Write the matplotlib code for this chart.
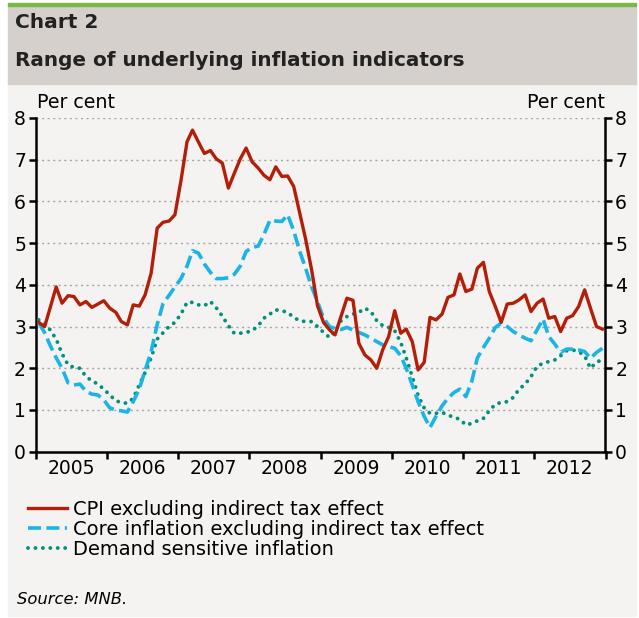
import matplotlib
matplotlib.use("Agg")
import matplotlib.pyplot as plt
import matplotlib.dates as mdates
from matplotlib.patches import Rectangle
import pandas as pd

# data (monthly, Jan 2005 - Dec 2012)
cpi_ex_tax = [
    3.1, 3.0, 3.45, 3.95, 3.56, 3.74, 3.72, 3.52, 3.6, 3.46, 3.54, 3.62,
    3.44, 3.34, 3.12, 3.04, 3.52, 3.49, 3.76, 4.28, 5.36, 5.5, 5.53, 5.68,
    6.5, 7.43, 7.71, 7.42, 7.15, 7.22, 7.02, 6.92, 6.32, 6.67, 7.02, 7.28,
    6.95, 6.8, 6.63, 6.52, 6.83, 6.6, 6.61, 6.36, 5.72, 5.1, 4.36, 3.5,
    3.1, 2.92, 2.8, 3.25, 3.68, 3.63, 2.6, 2.32, 2.2, 2.0, 2.45, 2.76,
    3.38, 2.84, 2.94, 2.64, 1.96, 2.14, 3.22, 3.16, 3.3, 3.7, 3.76, 4.26,
    3.84, 3.9, 4.4, 4.54, 3.84, 3.48, 3.1, 3.54, 3.56, 3.64, 3.76, 3.36,
    3.56, 3.66, 3.2, 3.24, 2.88, 3.2, 3.26, 3.48, 3.88, 3.44, 3.0, 2.94,
]
core_ex_tax = [
    3.1, 2.85, 2.55, 2.25, 2.0, 1.65, 1.6, 1.62, 1.45, 1.38, 1.36, 1.24,
    1.05, 1.0, 0.98, 0.95, 1.2, 1.5, 1.95, 2.4, 3.05, 3.55, 3.75, 3.95,
    4.15, 4.45, 4.82, 4.76, 4.5, 4.3, 4.15, 4.15, 4.17, 4.25, 4.45, 4.8,
    4.9, 4.93, 5.2, 5.55, 5.53, 5.52, 5.68, 5.3, 4.8, 4.4, 3.95, 3.6,
    3.2, 3.0, 2.95, 2.93, 2.98, 2.92, 2.86, 2.8, 2.72, 2.64, 2.56, 2.52,
    2.48, 2.3, 2.0, 1.6, 1.2, 0.85, 0.58, 0.85, 1.1, 1.28, 1.42, 1.5,
    1.32, 1.7, 2.25, 2.5, 2.72, 2.98, 3.08, 3.0, 2.88, 2.8, 2.72, 2.66,
    2.92, 3.18, 2.76, 2.58, 2.38, 2.46, 2.46, 2.44, 2.4, 2.24, 2.38, 2.48,
]
demand_sensitive = [
    3.16, 3.08, 2.92, 2.7, 2.35, 2.08, 2.02, 2.0, 1.8, 1.7, 1.62, 1.5,
    1.36, 1.22, 1.18, 1.16, 1.28, 1.6, 1.9, 2.25, 2.7, 2.85, 3.0, 3.1,
    3.3, 3.58, 3.58, 3.52, 3.5, 3.6, 3.45, 3.25, 3.02, 2.84, 2.84, 2.86,
    2.9, 3.02, 3.2, 3.3, 3.4, 3.38, 3.34, 3.22, 3.14, 3.12, 3.12, 3.0,
    2.86, 2.74, 2.88, 3.14, 3.24, 3.3, 3.34, 3.44, 3.36, 3.14, 3.02, 2.98,
    2.9, 2.62, 2.25, 1.8, 1.35, 1.05, 0.92, 0.92, 0.94, 0.88, 0.82, 0.78,
    0.64, 0.68, 0.74, 0.8, 0.98, 1.14, 1.18, 1.2, 1.3, 1.5, 1.62, 1.8,
    2.05, 2.12, 2.16, 2.2, 2.3, 2.42, 2.44, 2.4, 2.3, 2.0, 2.15, 2.2,
]
labels = [
    "CPI excluding indirect tax effect",
    "Core inflation excluding indirect tax effect",
    "Demand sensitive inflation",
]
dates = pd.date_range("2005-01-01", periods=len(cpi_ex_tax), freq="MS") + pd.Timedelta(days=15)

W, H = 639, 618
fig = plt.figure(figsize=(W / 100, H / 100), dpi=100)
fig.patch.set_facecolor("white")

def px_rect(x0, y0, x1, y1, color):
    fig.patches.append(Rectangle((x0 / W, 1 - y1 / H), (x1 - x0) / W, (y1 - y0) / H,
                                 transform=fig.transFigure, color=color, zorder=-10))

# background panels
px_rect(8, 84, 636, 616, "#f5f3f1")
px_rect(8, 6, 636, 84, "#d5d0cc")
px_rect(8, 3, 636, 6, "#7ab648")

fig.text(15 / W, 1 - 22 / H, "Chart 2", fontsize=14.5, fontweight="bold",
         color="#222222", va="center", ha="left")
fig.text(15 / W, 1 - 60 / H, "Range of underlying inflation indicators", fontsize=14.4,
         fontweight="bold", color="#222222", va="center", ha="left")

ax = fig.add_axes([35.7 / W, 1 - 451.7 / H, (605.5 - 35.7) / W, (451.7 - 118) / H])
ax.set_facecolor("none")

ax.plot(dates, demand_sensitive, color="#00907c", lw=2.8,
        linestyle=(0, (0.01, 1.9)), dash_capstyle="round", label=labels[2], zorder=3)
ax.plot(dates, core_ex_tax, color="#1ab4e6", lw=2.6,
        linestyle=(0, (3.6, 1.5)), label=labels[1], zorder=4)
ax.plot(dates, cpi_ex_tax, color="#b21e08", lw=2.4, label=labels[0], zorder=5)

ax.set_ylim(0, 8)
ax.set_xlim(pd.Timestamp("2005-01-01"), pd.Timestamp("2013-01-01"))
ax.set_yticks(range(0, 9))
ax.yaxis.grid(True, linestyle=(0, (1.5, 2.5)), color="#a5a5a5", lw=1)
ax.set_axisbelow(True)

ax.xaxis.set_major_locator(mdates.YearLocator())
ax.xaxis.set_major_formatter(plt.NullFormatter())
ax.xaxis.set_minor_locator(mdates.MonthLocator(bymonth=7))
ax.xaxis.set_minor_formatter(mdates.DateFormatter("%Y"))

for side in ["left", "right", "bottom"]:
    ax.spines[side].set_linewidth(1.8)
    ax.spines[side].set_color("black")
ax.spines["top"].set_visible(False)

ax.tick_params(axis="y", which="both", left=True, right=True, labelleft=True,
               labelright=True, direction="out", length=5, width=1.8,
               labelsize=13.5, pad=2)
ax.tick_params(axis="x", which="major", direction="out", length=5, width=1.8)
ax.tick_params(axis="x", which="minor", length=0, labelsize=13.5, pad=5)

fig.text(37 / W, 1 - 103 / H, "Per cent", fontsize=13.7, va="center", ha="left")
fig.text(605 / W, 1 - 103 / H, "Per cent", fontsize=13.7, va="center", ha="right")

handles, lbls = ax.get_legend_handles_labels()
order = [2, 1, 0]
fig.legend([handles[i] for i in order], [lbls[i] for i in order],
           loc="upper left", bbox_to_anchor=(28 / W, 1 - 500 / H),
           frameon=False, fontsize=14, handlelength=2.0, handletextpad=0.3,
           labelspacing=0.05, borderpad=0, borderaxespad=0)

fig.text(17 / W, 1 - 600 / H, "Source: MNB.", fontsize=11.8, style="italic",
         va="center", ha="left")

fig.savefig("out.png", dpi=100)
